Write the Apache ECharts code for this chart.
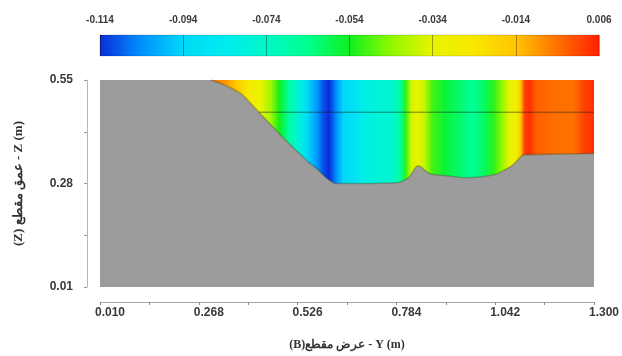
<!DOCTYPE html>
<html>
<head>
<meta charset="utf-8">
<script src="https://cdn.jsdelivr.net/npm/echarts@6/dist/echarts.min.js"></script>
<style>
  html, body { margin: 0; padding: 0; background: #ffffff; }
  #chart { width: 622px; height: 356px; }
</style>
</head>
<body>
<div id="chart"></div>
<script>
// ---- Data ----
// Colour scale (velocity) tick labels
const SCALE_TICKS = [-0.114, -0.094, -0.074, -0.054, -0.034, -0.014, 0.006];
// Palette at equal steps from -0.114 to 0.006
const PALETTE = ['#0a2cd8', '#0090ff', '#00d8f8', '#00ecf0', '#00f8c8', '#00ff90',
                 '#10f020', '#90f800', '#e8f400', '#f8e800', '#ffc400', '#ff7000', '#ff2000'];

// Axis tick values
const X_TICKS = [0.010, 0.139, 0.268, 0.397, 0.526, 0.655, 0.784, 0.913, 1.042, 1.171, 1.300];
const X_LABELS = [0.010, 0.268, 0.526, 0.784, 1.042, 1.300];
const Y_TICKS = [0.01, 0.145, 0.28, 0.415, 0.55];
const Y_LABELS = [0.01, 0.28, 0.55];

// Bed profile (lateral position Y, bed elevation Z)
const BED_Y = [0.010, 0.300, 0.340, 0.380, 0.425, 0.484, 0.554, 0.580, 0.598, 0.611, 0.624, 0.700,
               0.787, 0.800, 0.818, 0.831, 0.839, 0.849, 0.860, 0.873, 0.917, 0.961, 1.002, 1.046,
               1.064, 1.080, 1.093, 1.103, 1.111, 1.119, 1.300];
const BED_Z = [0.550, 0.550, 0.535, 0.513, 0.466, 0.404, 0.336, 0.315, 0.297, 0.287, 0.280, 0.280,
               0.282, 0.286, 0.297, 0.318, 0.326, 0.323, 0.313, 0.305, 0.300, 0.295, 0.297, 0.305,
               0.314, 0.323, 0.333, 0.344, 0.352, 0.355, 0.358];

// Depth-uniform velocity across the section
const VEL_Y = [0.300, 0.334, 0.368, 0.399, 0.430, 0.456, 0.479, 0.502, 0.523, 0.549, 0.575, 0.593,
               0.608, 0.627, 0.645, 0.671, 0.697, 0.735, 0.774, 0.795, 0.808, 0.823, 0.839, 0.857,
               0.878, 0.909, 0.943, 0.981, 1.013, 1.038, 1.059, 1.080, 1.098, 1.108, 1.119, 1.132,
               1.150, 1.202, 1.248, 1.274, 1.300];
const VEL_U = [-0.004, -0.008, -0.016, -0.026, -0.034, -0.042, -0.054, -0.066, -0.076, -0.090, -0.102, -0.110,
               -0.114, -0.104, -0.094, -0.090, -0.082, -0.078, -0.076, -0.066, -0.052, -0.036, -0.032, -0.038,
               -0.050, -0.056, -0.060, -0.066, -0.060, -0.052, -0.044, -0.034, -0.028, -0.016, 0.002, 0.004,
               -0.002, -0.004, -0.004, 0.002, 0.004];

const WATER_Z = 0.55;     // free surface (top of plot)
const LINE_Z = 0.466;     // horizontal reference line
const LINE_Y = [0.425, 1.300];

// ---- helpers ----
const U_MIN = SCALE_TICKS[0], U_MAX = SCALE_TICKS[SCALE_TICKS.length - 1];
function hex2rgb(h) { return [parseInt(h.substr(1, 2), 16), parseInt(h.substr(3, 2), 16), parseInt(h.substr(5, 2), 16)]; }
const PAL_RGB = PALETTE.map(hex2rgb);
function colorAt(u) {
  let t = (u - U_MIN) / (U_MAX - U_MIN);
  t = Math.max(0, Math.min(1, t)) * (PAL_RGB.length - 1);
  const i = Math.min(Math.floor(t), PAL_RGB.length - 2);
  const f = t - i;
  const a = PAL_RGB[i], b = PAL_RGB[i + 1];
  return 'rgb(' + [0, 1, 2].map(k => Math.round(a[k] + (b[k] - a[k]) * f)).join(',') + ')';
}

const chart = echarts.init(document.getElementById('chart'), null, { renderer: 'canvas' });

const labelFont = { fontFamily: 'Liberation Sans, Arial, sans-serif', fontWeight: 'bold', fontSize: 12, color: '#3a3a3a' };

const option = {
  backgroundColor: '#ffffff',
  animation: false,
  grid: [
    { left: 100, right: 24, top: 80, bottom: 68, show: true, backgroundColor: '#9c9c9c', borderWidth: 0 },
    { left: 100, right: 23, top: 35, height: 21, show: false }
  ],
  xAxis: [
    {
      gridIndex: 0, type: 'value', min: 0.01, max: 1.3, offset: 15,
      name: '(B)عرض مقطع - Y (m)', nameLocation: 'middle', nameGap: 37,
      nameTextStyle: { fontFamily: 'Liberation Serif, DejaVu Serif, serif', fontWeight: 'bold', fontSize: 12, color: '#333' },
      axisLine: { show: true, lineStyle: { color: '#a8a8a8', width: 1 } },
      axisTick: { show: true, inside: false, length: 3, customValues: X_TICKS, lineStyle: { color: '#888' } },
      axisLabel: Object.assign({ customValues: X_LABELS, margin: 5, padding: [0, 0, 0, 20], formatter: v => v.toFixed(3) }, labelFont),
      splitLine: { show: false }
    },
    {
      gridIndex: 1, type: 'value', min: U_MIN, max: U_MAX, position: 'top', z: 5,
      axisLine: { show: false },
      axisTick: { show: false, customValues: SCALE_TICKS },
      axisLabel: Object.assign({ customValues: SCALE_TICKS, margin: 10, formatter: v => v.toFixed(3) }, labelFont, { fontSize: 10 }),
      splitLine: { show: true, lineStyle: { color: 'rgba(0,0,0,0.35)', width: 1 } }
    }
  ],
  yAxis: [
    {
      gridIndex: 0, type: 'value', min: 0.01, max: 0.55, offset: 13,
      name: '(Z) عمق مقطع - Z (m)', nameLocation: 'middle', nameGap: 62, nameRotate: 90,
      nameTextStyle: { fontFamily: 'Liberation Serif, DejaVu Serif, serif', fontWeight: 'bold', fontSize: 13, color: '#333' },
      axisLine: { show: true, lineStyle: { color: '#b4b4b4', width: 1 } },
      axisTick: { show: true, inside: false, length: 3, customValues: Y_TICKS, lineStyle: { color: '#999' } },
      axisLabel: Object.assign({ customValues: Y_LABELS, margin: 14, formatter: v => v.toFixed(2) }, labelFont),
      splitLine: { show: false }
    },
    { gridIndex: 1, type: 'value', min: 0, max: 1, show: false }
  ],
  series: [
    {
      // coloured water region, clipped by the bed profile
      type: 'custom', xAxisIndex: 0, yAxisIndex: 0, z: 2,
      data: [[VEL_Y[0], WATER_Z]],
      renderItem: function (params, api) {
        const y0 = VEL_Y[0], y1 = VEL_Y[VEL_Y.length - 1];
        const pts = [api.coord([y0, WATER_Z]), api.coord([y1, WATER_Z])];
        for (let i = BED_Y.length - 1; i >= 0; i--) {
          if (BED_Y[i] >= y0) pts.push(api.coord([BED_Y[i], BED_Z[i]]));
        }
        const px0 = api.coord([y0, WATER_Z])[0], px1 = api.coord([y1, WATER_Z])[0];
        const stops = VEL_Y.map((y, i) => ({ offset: (y - y0) / (y1 - y0), color: colorAt(VEL_U[i]) }));
        return {
          type: 'polygon',
          shape: { points: pts },
          style: { fill: new echarts.graphic.LinearGradient(px0, 0, px1, 0, stops, true), stroke: null }
        };
      }
    },
    {
      // bed outline
      type: 'line', xAxisIndex: 0, yAxisIndex: 0, z: 3,
      data: BED_Y.map((y, i) => [y, BED_Z[i]]).slice(1),
      showSymbol: false, symbol: 'none', silent: true, smooth: 0.2,
      lineStyle: { color: 'rgba(40,60,20,0.3)', width: 1.5 }
    },
    {
      // horizontal reference line
      type: 'line', xAxisIndex: 0, yAxisIndex: 0, z: 4,
      data: LINE_Y.map(y => [y, LINE_Z]),
      showSymbol: false, symbol: 'none', silent: true,
      lineStyle: { color: 'rgba(30,30,30,0.55)', width: 1 }
    },
    {
      // colour bar
      type: 'custom', xAxisIndex: 1, yAxisIndex: 1, z: 2,
      data: [[U_MIN, 0]],
      renderItem: function (params, api) {
        const p0 = api.coord([U_MIN, 1]), p1 = api.coord([U_MAX, 0]);
        const stops = PALETTE.map((c, i) => ({ offset: i / (PALETTE.length - 1), color: c }));
        return {
          type: 'rect',
          shape: { x: p0[0], y: p0[1], width: p1[0] - p0[0], height: p1[1] - p0[1] },
          style: { fill: new echarts.graphic.LinearGradient(0, 0, 1, 0, stops), stroke: 'rgba(0,0,0,0.15)', lineWidth: 1 }
        };
      }
    }
  ]
};
chart.setOption(option);
</script>
</body>
</html>
